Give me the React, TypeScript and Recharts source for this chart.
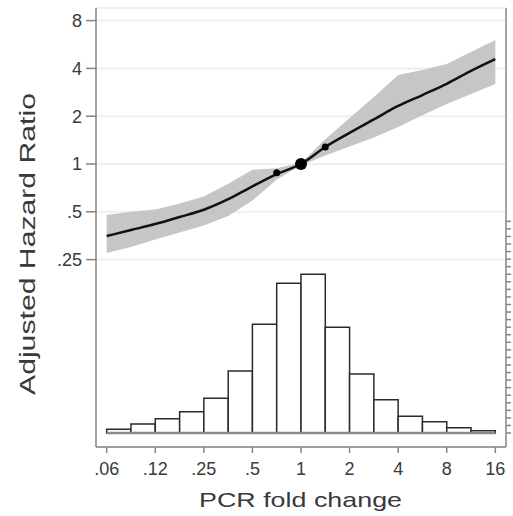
import React from "react";
import {
  ComposedChart,
  Line,
  Area,
  Scatter,
  XAxis,
  YAxis,
  CartesianGrid,
  ReferenceArea,
  ReferenceLine,
} from "recharts";

// PCR fold change (x) sample points for the fitted curve
const foldChange = [0.0625, 0.0884, 0.125, 0.177, 0.25, 0.354, 0.5, 0.707, 1, 1.414, 2, 2.828, 4, 5.657, 8, 11.31, 16];
// Adjusted hazard ratio (fitted) and 95% CI
const hazardRatio = [0.352, 0.384, 0.419, 0.464, 0.515, 0.6, 0.724, 0.865, 1.0, 1.28, 1.57, 1.91, 2.32, 2.72, 3.2, 3.86, 4.58];
const ciLower = [0.275, 0.3, 0.335, 0.37, 0.41, 0.47, 0.589, 0.8, 0.98, 1.13, 1.29, 1.47, 1.71, 2.03, 2.39, 2.76, 3.19];
const ciUpper = [0.477, 0.5, 0.517, 0.564, 0.624, 0.75, 0.92, 0.94, 1.02, 1.43, 1.95, 2.64, 3.64, 3.91, 4.27, 5.07, 6.03];

// Knot markers
const markerFold = [0.707, 1, 1.414];
const markerHR = [0.88, 1, 1.28];
const markerRadius = [3.5, 6, 3.5];

// Histogram of PCR fold change (percent of patients)
const binEdges = [0.0625, 0.0884, 0.125, 0.177, 0.25, 0.354, 0.5, 0.707, 1, 1.414, 2, 2.828, 4, 5.657, 8, 11.31, 16];
const binPercent = [0.5, 1.2, 1.9, 2.8, 4.6, 8.2, 14.4, 19.8, 21.0, 14.0, 7.8, 4.4, 2.2, 1.5, 0.7, 0.3];

// Axis ticks
const xTickValues = [0.0625, 0.125, 0.25, 0.5, 1, 2, 4, 8, 16];
const xTickLabels = [".06", ".12", ".25", ".5", "1", "2", "4", "8", "16"];
const yTickValues = [0.25, 0.5, 1, 2, 4, 8];
const yTickLabels = [".25", ".5", "1", "2", "4", "8"];
const histTickValues = Array.from({ length: 29 }, (_, i) => i);

const curveData = foldChange.map((fc, i) => ({
  fc,
  hr: hazardRatio[i],
  band: [ciLower[i], ciUpper[i]],
}));
const markerData = markerFold.map((fc, i) => ({ fc, hr: markerHR[i], r: markerRadius[i] }));
const bins = binPercent.map((p, i) => ({ x1: binEdges[i], x2: binEdges[i + 1], p }));

const FONT = "'Liberation Sans', Arial, Helvetica, sans-serif";
const AXIS = "#858585";
const TEXT = "#3a3a3a";

const MarkerShape = (props: any) => {
  const { cx, cy, payload } = props;
  if (cx == null || cy == null) return null;
  return <circle cx={cx} cy={cy} r={payload.r} fill="#000" />;
};

export default function App() {
  return (
    <div style={{ position: "absolute", left: 0, top: 0, width: 513, height: 516, background: "#fff" }}>
      <ComposedChart
        width={513}
        height={516}
        data={curveData}
        margin={{ top: 8, right: 1, bottom: 29, left: 36 }}
        style={{ fontFamily: FONT }}
      >
        <CartesianGrid
          yAxisId="hr"
          vertical={false}
          horizontal={true}
          stroke="#efefef"
          strokeWidth={2}
        />
        <XAxis
          dataKey="fc"
          type="number"
          scale="log"
          domain={[Math.pow(2, -4.22), Math.pow(2, 4.22)]}
          allowDataOverflow
          ticks={xTickValues}
          interval={0}
          tickFormatter={(v: number) => xTickLabels[xTickValues.indexOf(v)] ?? ""}
          height={40}
          tickSize={6}
          tickMargin={9}
          stroke={AXIS}
          strokeWidth={1.5}
          tick={{ fill: TEXT, fontSize: 18, fontFamily: FONT }}
          label={{
            content: () => (
              <text
                x={300.5}
                y={507}
                textAnchor="middle"
                fontSize={21}
                fill={TEXT}
                fontFamily={FONT}
                textLength={203}
                lengthAdjust="spacingAndGlyphs"
              >
                PCR fold change
              </text>
            ),
          }}
        />
        <YAxis
          yAxisId="hr"
          type="number"
          scale="log"
          domain={[Math.pow(2, -5.92), Math.pow(2, 3.264)]}
          allowDataOverflow
          ticks={yTickValues}
          interval={0}
          tickFormatter={(v: number) => yTickLabels[yTickValues.indexOf(v)] ?? ""}
          width={60}
          tickSize={10}
          tickMargin={4}
          stroke={AXIS}
          strokeWidth={1.5}
          tick={{ fill: TEXT, fontSize: 18, fontFamily: FONT }}
          label={{
            content: () => (
              <text
                x={35}
                y={244}
                transform="rotate(-90, 35, 244)"
                textAnchor="middle"
                fontSize={22}
                fill={TEXT}
                fontFamily={FONT}
                textLength={302}
                lengthAdjust="spacingAndGlyphs"
              >
                Adjusted Hazard Ratio
              </text>
            ),
          }}
        />
        <YAxis
          yAxisId="hist"
          orientation="right"
          type="number"
          domain={[-1.852, 56.22]}
          allowDataOverflow
          ticks={histTickValues}
          interval={0}
          tickFormatter={() => ""}
          width={6}
          tickSize={5}
          tickMargin={0}
          stroke={AXIS}
          strokeWidth={1.5}
        />
        {bins.map((b, i) => (
          <ReferenceArea
            key={i}
            yAxisId="hist"
            x1={b.x1}
            x2={b.x2}
            y1={0}
            y2={b.p}
            fill="#ffffff"
            fillOpacity={1}
            stroke="#2a2a2a"
            strokeWidth={1.5}
            ifOverflow="visible"
          />
        ))}
        <ReferenceLine
          yAxisId="hist"
          segment={[
            { x: binEdges[0], y: 0 },
            { x: binEdges[binEdges.length - 1], y: 0 },
          ]}
          stroke="#8a8a8a"
          strokeWidth={2.5}
          ifOverflow="visible"
        />
        <Area
          yAxisId="hr"
          dataKey="band"
          type="linear"
          stroke="none"
          fill="#c6c6c6"
          fillOpacity={1}
          isAnimationActive={false}
          dot={false}
          activeDot={false}
        />
        <Line
          yAxisId="hr"
          dataKey="hr"
          type="monotone"
          stroke="#111"
          strokeWidth={2.5}
          dot={false}
          activeDot={false}
          isAnimationActive={false}
        />
        <Scatter
          yAxisId="hr"
          data={markerData}
          dataKey="hr"
          shape={<MarkerShape />}
          isAnimationActive={false}
        />
      </ComposedChart>
    </div>
  );
}
